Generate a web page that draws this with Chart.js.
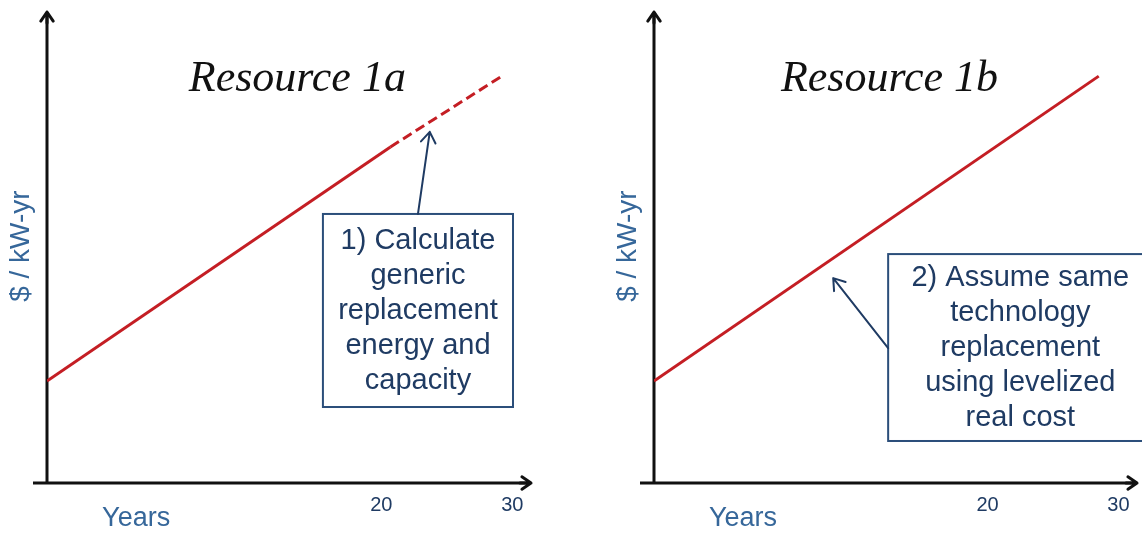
<!DOCTYPE html>
<html>
<head>
<meta charset="utf-8">
<script src="https://cdn.jsdelivr.net/npm/chart.js@4"></script>
<style>
  body { margin: 0; background: #fff; }
  #wrap { position: relative; width: 1142px; height: 533px; overflow: hidden; }
  canvas { position: absolute; top: 0; }
</style>
</head>
<body>
<div id="wrap">
  <canvas id="chartA" width="575" height="533" style="left:0"></canvas>
  <canvas id="chartB" width="535" height="533" style="left:607px"></canvas>
</div>
<script>
// schematic values (arbitrary units)
const xTicks = [20, 30];
const xMin = -5.5, xMax = 31.5;
const yMin = 0, yMax = 100;

const solidX_A = [-5.5, 20.7];
const solidY_A = [21.6, 71.2];
const dashX_A = [20.7, 29.2];
const dashY_A = [71.2, 86.2];
const lineX_B = [-5.5, 28.5];
const lineY_B = [21.6, 86.2];

const titles = ["Resource 1a", "Resource 1b"];
const yLabel = "$ / kW-yr";
const xLabel = "Years";
const noteA = ["1) Calculate", "generic", "replacement", "energy and", "capacity"];
const noteB = ["2) Assume same", "technology", "replacement", "using levelized", "real cost"];

const red = "#C41E24";
const navy = "#1F3B63";
const boxLine = "#2B4E7A";
const labelBlue = "#36679A";

const pts = (xs, ys) => xs.map((x, i) => ({ x: x, y: ys[i] }));

const drawArrow = (ctx, x1, y1, x2, y2, color, width, head) => {
  const a = Math.atan2(y2 - y1, x2 - x1);
  ctx.save();
  ctx.strokeStyle = color;
  ctx.lineWidth = width;
  ctx.lineCap = "round";
  ctx.lineJoin = "round";
  ctx.beginPath();
  ctx.moveTo(x1, y1);
  ctx.lineTo(x2, y2);
  ctx.moveTo(x2 - head * Math.cos(a - 0.6), y2 - head * Math.sin(a - 0.6));
  ctx.lineTo(x2, y2);
  ctx.lineTo(x2 - head * Math.cos(a + 0.6), y2 - head * Math.sin(a + 0.6));
  ctx.stroke();
  ctx.restore();
};

// axes with arrow heads, drawn under the lines
const axesPlugin = {
  id: "axesArrows",
  beforeDatasetsDraw(chart) {
    const { ctx, chartArea: a } = chart;
    ctx.save();
    ctx.strokeStyle = "#111";
    ctx.lineWidth = 3;
    ctx.beginPath();
    ctx.moveTo(a.left - 14, a.bottom);
    ctx.lineTo(a.right - 1, a.bottom);
    ctx.moveTo(a.left, a.bottom);
    ctx.lineTo(a.left, a.top + 1);
    ctx.stroke();
    ctx.restore();
    drawArrow(ctx, a.right - 12, a.bottom, a.right - 1, a.bottom, "#111", 3, 11);
    drawArrow(ctx, a.left, a.top + 12, a.left, a.top + 1, "#111", 3, 11);
  },
};

// title, axis labels, callout box and arrow
const notesPlugin = {
  id: "notes",
  afterDraw(chart) {
    const n = chart.options.plugins.notes;
    const { ctx } = chart;
    const xs = chart.scales.x, ys = chart.scales.y;
    const px = (v) => xs.getPixelForValue(v);
    const py = (v) => ys.getPixelForValue(v);
    ctx.save();

    ctx.fillStyle = "#111";
    ctx.font = "italic 44px 'Liberation Serif', 'Times New Roman', serif";
    ctx.textAlign = "center";
    ctx.textBaseline = "alphabetic";
    ctx.fillText(n.title, px(n.titleX), py(83.0));

    ctx.fillStyle = labelBlue;
    ctx.font = "27px 'Liberation Sans', Arial, sans-serif";
    ctx.textBaseline = "middle";
    ctx.fillText(xLabel, px(1.3), py(-7.6));

    ctx.save();
    ctx.translate(px(-7.5), py(50.2));
    ctx.rotate(-Math.PI / 2);
    ctx.font = "28px 'Liberation Sans', Arial, sans-serif";
    ctx.fillText(yLabel, 0, 0);
    ctx.restore();

    const b = n.box;
    ctx.fillStyle = "#fff";
    ctx.fillRect(px(b.x0), py(b.y1), px(b.x1) - px(b.x0), py(b.y0) - py(b.y1));
    ctx.strokeStyle = boxLine;
    ctx.lineWidth = 2;
    ctx.strokeRect(px(b.x0), py(b.y1), px(b.x1) - px(b.x0), py(b.y0) - py(b.y1));

    ctx.fillStyle = navy;
    ctx.font = "29px 'Liberation Sans', Arial, sans-serif";
    ctx.textBaseline = "middle";
    n.lines.forEach((t, i) => {
      ctx.fillText(t, px(b.textX), py(b.textY) + i * 35);
    });
    ctx.restore();

    const ar = n.arrow;
    drawArrow(ctx, px(ar[0]), py(ar[1]), px(ar[2]), py(ar[3]), navy, 2, 13);
  },
};

const makeChart = (id, datasets, notes, padRight) => {
  return new Chart(document.getElementById(id), {
    type: "line",
    data: { datasets: datasets },
    options: {
      responsive: false,
      animation: false,
      events: [],
      layout: { padding: { left: 47, top: 11, right: padRight, bottom: 0 } },
      scales: {
        x: {
          type: "linear",
          min: xMin,
          max: xMax,
          grid: { display: false, drawTicks: false },
          border: { display: false },
          afterBuildTicks: (scale) => {
            scale.ticks = xTicks.map((v) => ({ value: v }));
          },
          afterFit: (scale) => {
            scale.height = 50;
          },
          ticks: {
            autoSkip: false,
            maxRotation: 0,
            padding: 10,
            color: navy,
            font: { family: "'Liberation Sans', Arial, sans-serif", size: 20 },
            callback: (v) => String(v),
          },
        },
        y: { display: false, min: yMin, max: yMax },
      },
      plugins: {
        legend: { display: false },
        tooltip: { enabled: false },
        notes: notes,
      },
    },
    plugins: [axesPlugin, notesPlugin],
  });
};

const lineStyle = { borderColor: red, borderWidth: 3, pointRadius: 0, fill: false };

makeChart(
  "chartA",
  [
    { ...lineStyle, data: pts(solidX_A, solidY_A) },
    { ...lineStyle, data: pts(dashX_A, dashY_A), borderDash: [10, 5] },
  ],
  {
    title: titles[0],
    titleX: 13.6,
    lines: noteA,
    box: { x0: 15.55, x1: 30.05, y0: 16.1, y1: 57.0, textX: 22.8, textY: 51.3 },
    arrow: [22.8, 57.0, 23.7, 74.4],
  },
  43
);

makeChart(
  "chartB",
  [{ ...lineStyle, data: pts(lineX_B, lineY_B) }],
  {
    title: titles[1],
    titleX: 12.5,
    lines: noteB,
    box: { x0: 12.4, x1: 38.5, y0: 8.9, y1: 48.5, textX: 22.5, textY: 43.4 },
    arrow: [12.4, 28.6, 8.2, 43.4],
  },
  4
);
</script>
</body>
</html>
